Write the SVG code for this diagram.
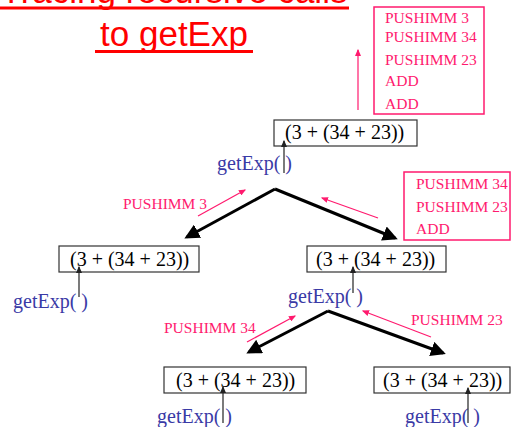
<svg xmlns="http://www.w3.org/2000/svg" width="512" height="427" viewBox="0 0 512 427">
<defs>
<style>
.title{font-family:"Liberation Sans",Arial,sans-serif;font-size:35px;fill:#ff0000;text-anchor:middle}
.ul{stroke:#ff0000;stroke-width:3}
.expr{font-family:"Liberation Serif","Times New Roman",serif;font-size:20px;fill:#000}
.call{font-family:"Liberation Serif","Times New Roman",serif;font-size:20px;fill:#3a3aa6}
.ins{font-family:"Liberation Serif","Times New Roman",serif;font-size:15.5px;fill:#ff1a6e}
.box{fill:none;stroke:#333;stroke-width:1.2}
.pbox{fill:none;stroke:#ff1a6e;stroke-width:1.5}
.big{stroke:#000;stroke-width:3;fill:none;marker-end:url(#hb)}
.thin{stroke:#222;stroke-width:1.2;fill:none;marker-end:url(#ht)}
.pk{stroke:#ff1a6e;stroke-width:1.2;fill:none;marker-end:url(#hp)}
</style>
<marker id="hb" markerWidth="5" markerHeight="5" refX="4" refY="2.5" orient="auto" markerUnits="strokeWidth"><path d="M0,0 L5,2.5 L0,5 z" fill="#000"/></marker>
<marker id="ht" markerWidth="6" markerHeight="5" refX="5" refY="2.5" orient="auto" markerUnits="strokeWidth"><path d="M0,0 L6,2.5 L0,5 z" fill="#222"/></marker>
<marker id="hp" markerWidth="6" markerHeight="5" refX="5" refY="2.5" orient="auto" markerUnits="strokeWidth"><path d="M0,0 L6,2.5 L0,5 z" fill="#ff1a6e"/></marker>
</defs>
<g id="title">
<text class="title" x="174" y="3">Tracing recursive calls</text>
<line class="ul" x1="0" y1="8" x2="349" y2="8"/>
<text class="title" x="174" y="46"> to getExp</text>
<line class="ul" x1="95" y1="51.5" x2="253" y2="51.5"/>
</g>
<g id="code-top">
<rect class="pbox" x="374" y="7" width="110" height="107"/>
<text class="ins" x="385" y="22.5">PUSHIMM 3</text>
<text class="ins" x="385" y="41.5">PUSHIMM 34</text>
<text class="ins" x="385" y="65">PUSHIMM 23</text>
<text class="ins" x="385" y="86">ADD</text>
<text class="ins" x="385" y="109">ADD</text>
</g>
<g id="root">
<rect class="box" x="274" y="120" width="143" height="26"/>
<text class="expr" x="285" y="139">(3 + (34 + 23))</text>
<text class="call" x="217" y="170">getExp( )</text>
</g>
<g id="code-right">
<rect class="pbox" x="404" y="172" width="106" height="68"/>
<text class="ins" x="416" y="189">PUSHIMM 34</text>
<text class="ins" x="416" y="212">PUSHIMM 23</text>
<text class="ins" x="416" y="234">ADD</text>
</g>
<g id="left1">
<rect class="box" x="59" y="246" width="140" height="26"/>
<text class="expr" x="70" y="266">(3 + (34 + 23))</text>
<text class="call" x="13" y="308">getExp( )</text>
</g>
<g id="right1">
<rect class="box" x="307" y="246" width="139" height="26"/>
<text class="expr" x="316" y="266">(3 + (34 + 23))</text>
<text class="call" x="288" y="303">getExp( )</text>
</g>
<g id="left2">
<rect class="box" x="164" y="367" width="142" height="26"/>
<text class="expr" x="176" y="387">(3 + (34 + 23))</text>
<text class="call" x="157" y="423">getExp( )</text>
</g>
<g id="right2">
<rect class="box" x="374" y="367" width="136" height="26"/>
<text class="expr" x="383" y="387">(3 + (34 + 23))</text>
<text class="call" x="405" y="423">getExp( )</text>
</g>
<g id="labels">
<text class="ins" x="123" y="209">PUSHIMM 3</text>
<text class="ins" x="164" y="333">PUSHIMM 34</text>
<text class="ins" x="411" y="325">PUSHIMM 23</text>
</g>
<g id="connectors">
<line class="pk" x1="358" y1="110" x2="358" y2="50"/>
<line class="thin" x1="284" y1="173" x2="284" y2="141"/>
<line class="big" x1="275" y1="189" x2="187" y2="237"/>
<line class="big" x1="275" y1="189" x2="395" y2="238"/>
<line class="pk" x1="198" y1="216" x2="245" y2="190"/>
<line class="pk" x1="378" y1="218" x2="322" y2="198"/>
<line class="thin" x1="79" y1="297" x2="79" y2="267"/>
<line class="thin" x1="353" y1="293" x2="353" y2="267"/>
<line class="big" x1="328" y1="311" x2="249" y2="352"/>
<line class="big" x1="328" y1="311" x2="443" y2="353"/>
<line class="pk" x1="247" y1="342" x2="295" y2="316"/>
<line class="pk" x1="431" y1="337" x2="363" y2="311"/>
<line class="thin" x1="223" y1="423" x2="223" y2="387"/>
<line class="thin" x1="468" y1="423" x2="468" y2="388"/>
</g>
</svg>
